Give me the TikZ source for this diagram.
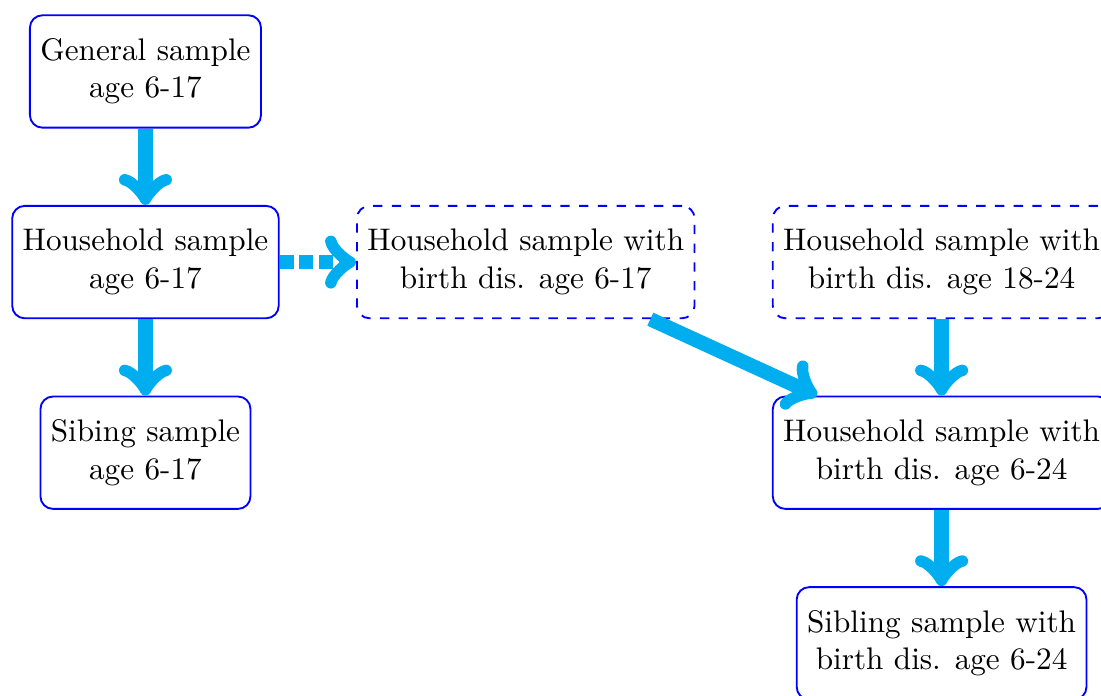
\documentclass[tikz,border=0pt]{standalone}
\usetikzlibrary{positioning}
\definecolor{flowcyan}{RGB}{0,174,239}

\begin{document}
\begin{tikzpicture}[node distance=0.86cm,
    sample/.style={draw=blue, semithick, rounded corners, align=center, minimum height=36pt},
    dsample/.style={sample, dashed},
    flow/.style={->, line width=4.6pt, flowcyan}]
  \useasboundingbox (-1.638,0.805) rectangle (10.76,-7.03);
  \node[sample]                  (general) {General sample\\age 6-17};
  \node[sample, below=of general] (house)   {Household sample\\age 6-17};
  \node[sample, below=of house]   (sib)     {Sibing sample\\age 6-17};
  \node[dsample, right=of house]  (bd617)   {Household sample with\\birth dis. age 6-17};
  \node[dsample, right=of bd617]  (bd1824)  {Household sample with\\birth dis. age 18-24};
  \node[sample, below=of bd1824]  (bd624)   {Household sample with\\birth dis. age 6-24};
  \node[sample, below=of bd624]   (sib624)  {Sibling sample with\\birth dis. age 6-24};

  \draw[flow] (general) -- (house);
  \draw[flow] (house) -- (sib);
  \draw[flow, dash pattern=on 4.5pt off 1.8pt] (house) -- (bd617);
  \draw[flow] (bd617) -- (bd624);
  \draw[flow] (bd1824) -- (bd624);
  \draw[flow] (bd624) -- (sib624);
\end{tikzpicture}
\end{document}
